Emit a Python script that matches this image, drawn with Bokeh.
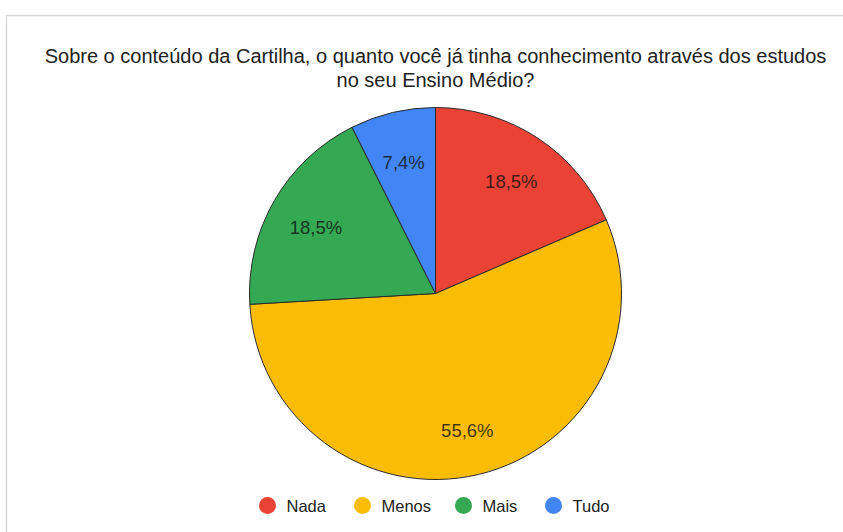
import math
from bokeh.plotting import figure
from bokeh.models import Range1d, ColumnDataSource
from bokeh.core.properties import value
from bokeh.embed import file_html
from bokeh.resources import INLINE

# Survey answers
categories = ["Nada", "Menos", "Mais", "Tudo"]
counts = [5, 15, 5, 2]
pct_labels = ["18,5%", "55,6%", "18,5%", "7,4%"]
colors = ["#EA4335", "#FBBC04", "#34A853", "#4285F4"]
title_lines = [
    "Sobre o conteúdo da Cartilha, o quanto você já tinha conhecimento através dos estudos",
    "no seu Ensino Médio?",
]

W, H = 843, 532
cx, cy, R = 435, H - 293, 186

p = figure(width=W, height=H, x_range=Range1d(0, W), y_range=Range1d(0, H),
           output_backend="svg", toolbar_location=None, min_border=0)
p.axis.visible = False
p.grid.visible = False
p.outline_line_color = None
p.background_fill_color = "white"
p.border_fill_color = "white"

# faint frame line along the top and left
p.line(x=[6, 6, W], y=[0, H - 15, H - 15], line_color="#d8d8d8", line_width=1.5)

total = sum(counts)
starts, ends, lx, ly = [], [], [], []
acc = 0.0
for c in counts:
    a0 = math.pi / 2 - 2 * math.pi * acc / total
    a1 = math.pi / 2 - 2 * math.pi * (acc + c) / total
    starts.append(a0)
    ends.append(a1)
    mid = (a0 + a1) / 2
    lx.append(cx + 138 * math.cos(mid))
    ly.append(cy - 3 + 138 * math.sin(mid))
    acc += c

src = ColumnDataSource(dict(start=starts, end=ends, color=colors,
                            lx=lx, ly=ly, label=pct_labels))
p.wedge(x=cx, y=cy, radius=R, start_angle="start", end_angle="end",
        direction="clock", fill_color="color", line_color="#2a2a2a",
        line_width=1, source=src)
p.text(x="lx", y="ly", text="label", source=src, text_align="center",
       text_baseline="middle", text_font=value("Liberation Sans"),
       text_font_size="18.5px", text_color="#111111", text_alpha=0.8)

# title
p.text(x=[435, 435], y=[H - 55, H - 79], text=title_lines,
       text_align="center", text_baseline="middle",
       text_font=value("Liberation Sans"), text_font_size="20px",
       text_color="#222222")

# legend
leg_x = [267, 362, 463, 553]
leg_y = H - 505
p.scatter(x=leg_x, y=[leg_y] * 4, size=17, fill_color=colors, line_color=None)
p.text(x=[x + 19 for x in leg_x], y=[leg_y] * 4, text=categories,
       text_align="left", text_baseline="middle",
       text_font=value("Liberation Sans"), text_font_size="16.5px",
       text_color="#222222")

open("out.html", "w").write(file_html(p, INLINE))
